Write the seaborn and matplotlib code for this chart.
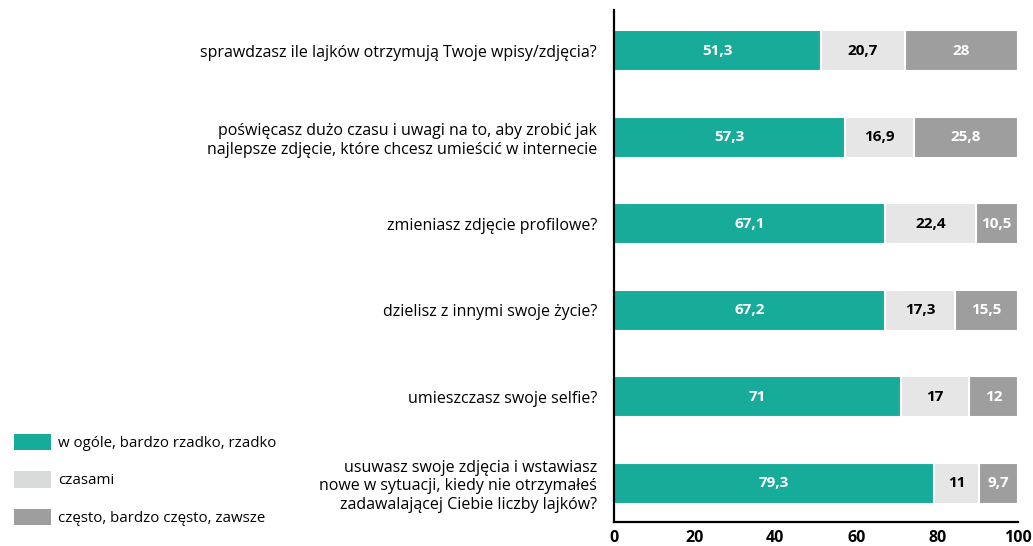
import numpy as np
import pandas as pd
import matplotlib
matplotlib.use("Agg")
import matplotlib.pyplot as plt
import seaborn as sns
from matplotlib.patches import Patch

questions = [
    "sprawdzasz ile lajków otrzymują Twoje wpisy/zdjęcia?",
    "poświęcasz dużo czasu i uwagi na to, aby zrobić jak\nnajlepsze zdjęcie, które chcesz umieścić w internecie",
    "zmieniasz zdjęcie profilowe?",
    "dzielisz z innymi swoje życie?",
    "umieszczasz swoje selfie?",
    "usuwasz swoje zdjęcia i wstawiasz\nnowe w sytuacji, kiedy nie otrzymałeś\nzadawalającej Ciebie liczby lajków?",
]
rarely = [51.3, 57.3, 67.1, 67.2, 71, 79.3]
sometimes = [20.7, 16.9, 22.4, 17.3, 17, 11]
often = [28, 25.8, 10.5, 15.5, 12, 9.7]

series_names = ["w ogóle, bardzo rzadko, rzadko", "czasami", "często, bardzo często, zawsze"]
bar_colors = ["#17ab9a", "#e6e6e6", "#9e9e9e"]
legend_colors = ["#17ab9a", "#d9dada", "#9e9e9e"]
text_colors = ["white", "black", "white"]

sns.set_style("white")
plt.rcParams['font.family'] = ['Open Sans', 'DejaVu Sans']
plt.rcParams['text.color'] = 'black'
plt.rcParams['xtick.color'] = 'black'
plt.rcParams['ytick.color'] = 'black'

df = pd.DataFrame({"q": questions, "r": rarely, "s": sometimes, "o": often})
df["c1"] = df["r"]
df["c2"] = df["r"] + df["s"]
df["c3"] = df["c2"] + df["o"]

fig = plt.figure(figsize=(10.33, 5.46), dpi=100)
ax = fig.add_axes([0.594, 0.044, 0.3915, 0.938])

# stacked bars drawn back to front
for col, color in zip(["c3", "c2", "c1"], bar_colors[::-1]):
    sns.barplot(data=df, x=col, y="q", orient="h", color=color, width=0.475,
                saturation=1, edgecolor="white", linewidth=1.5, ax=ax)

# value labels
for i in range(len(questions)):
    vals = [rarely[i], sometimes[i], often[i]]
    left = 0
    for v, tc in zip(vals, text_colors):
        txt = f"{v:g}".replace(".", ",")
        ax.text(left + v / 2, i, txt, ha="center", va="center", color=tc,
                fontsize=11, fontweight="bold")
        left += v

ax.set_xlim(0, 100)
ax.set_ylim(5.45, -0.475)
ax.set_xticks([0, 20, 40, 60, 80, 100])
ax.set_xlabel("")
ax.set_ylabel("")
ax.tick_params(axis="x", length=0, pad=6, labelsize=11.5)
ax.tick_params(axis="y", length=0, pad=12, labelsize=11.5)
for lab in ax.get_xticklabels():
    lab.set_fontweight("bold")
for lab in ax.get_yticklabels():
    lab.set_horizontalalignment("right")
sns.despine(ax=ax)
ax.spines["left"].set_color("black")
ax.spines["bottom"].set_color("black")
ax.spines["left"].set_linewidth(1.6)
ax.spines["bottom"].set_linewidth(1.6)

handles = [Patch(facecolor=c, edgecolor="none") for c in legend_colors]
fig.legend(handles, series_names, loc="lower left", bbox_to_anchor=(0.0, 0.012),
           frameon=False, fontsize=10.8, handlelength=2.5, handleheight=1.3,
           labelspacing=1.35, handletextpad=0.5)

fig.savefig("out.png", dpi=100)
